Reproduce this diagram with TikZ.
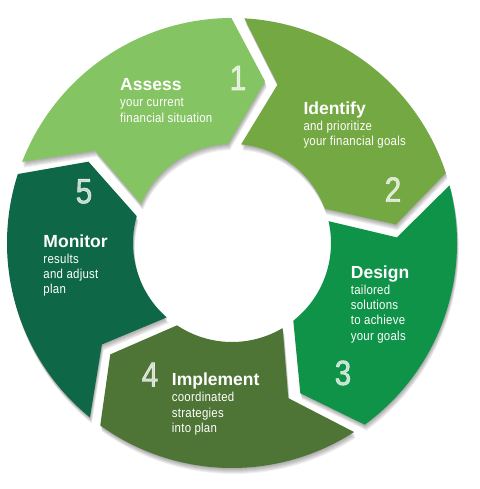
\documentclass[tikz,border=0pt]{standalone}
\usepackage{fontspec}
\setmainfont{Liberation Sans}
\newfontfamily\condfont[FakeStretch=0.88,LetterSpace=2]{Liberation Sans}
\newfontfamily\numfont[FakeStretch=0.85,FakeBold=1.6]{Liberation Sans}
\definecolor{cA}{HTML}{85C462}
\definecolor{cB}{HTML}{74A843}
\definecolor{cC}{HTML}{0F9348}
\definecolor{cD}{HTML}{4E7535}
\definecolor{cE}{HTML}{0E6848}
\def\Ro{225pt}\def\Rm{165pt}\def\Ri{99pt}
\def\gO{1.655}\def\gM{2.257}\def\gI{3.76}\def\dT{12.3}
\newcommand\segpath[2]{({#1-\gO}:\Ro) arc[start angle={#1-\gO}, end angle={#2+\gO}, radius=\Ro] -- ({#2-\dT+\gM}:\Rm) -- ({#2+\gI}:\Ri) arc[start angle={#2+\gI}, end angle={#1-\gI}, radius=\Ri] -- ({#1-\dT-\gM}:\Rm) -- cycle}
\tikzset{
  head/.style={text=white, font=\fontsize{17.5}{20}\selectfont\bfseries, inner sep=0pt, anchor=base west},
  sub/.style={text=white, font=\condfont\fontsize{13}{15.3}\selectfont, inner sep=0pt, anchor=base west},
  num/.style={text=white, text opacity=0.75, font=\numfont\fontsize{35}{40}\selectfont, inner sep=0pt, anchor=base}
}
\begin{document}
\begin{tikzpicture}
\useasboundingbox (-232pt,-246pt) rectangle (247pt,243pt);
\fill[white] (-232pt,-246pt) rectangle (247pt,243pt);
% soft shadows
\foreach \a/\b in {160.5/88.5, 88.5/16.5, 16.5/-55.5, -55.5/-127.5, -127.5/-199.5}{
  \foreach \s in {1,...,6}{
    \fill[black, opacity=0.06, xshift={0.3*\s*1pt}, yshift={-1.0*\s*1pt}] \segpath{\a}{\b};
  }
}
% segments
\fill[cA] \segpath{160.5}{88.5};
\fill[cB] \segpath{88.5}{16.5};
\fill[cC] \segpath{16.5}{-55.5};
\fill[cD] \segpath{-55.5}{-127.5};
\fill[cE] \segpath{-127.5}{-199.5};
% numbers
\node[num] (n1) at (6pt,153pt) {1};
\node[num] (n2) at (161pt,41.3pt) {2};
\node[num] (n3) at (111pt,-142pt) {3};
\node[num] (n4) at (-82pt,-143.7pt) {4};
\node[num] (n5) at (-148pt,39.7pt) {5};
% texts
\node[head] (h1) at (-112pt,152pt) {Assess};
\node[sub] (s1) at (-112pt,136pt) {\vtop{\hbox{your current}\hbox{financial situation}}};
\node[head] (h2) at (71.3pt,128.7pt) {Identify};
\node[sub] (s2) at (71.3pt,112.3pt) {\vtop{\hbox{and prioritize}\hbox{your financial goals}}};
\node[head] (h3) at (118.7pt,-35.3pt) {Design};
\node[sub] (s3) at (118.7pt,-51.3pt) {\vtop{\hbox{tailored}\hbox{solutions}\hbox{to achieve}\hbox{your goals}}};
\node[head] (h4) at (-60.3pt,-142.7pt) {Implement};
\node[sub] (s4) at (-60.3pt,-158.7pt) {\vtop{\hbox{coordinated}\hbox{strategies}\hbox{into plan}}};
\node[head] (h5) at (-188.7pt,-4.7pt) {Monitor};
\node[sub] (s5) at (-188.7pt,-20.3pt) {\vtop{\hbox{results}\hbox{and adjust}\hbox{plan}}};
\end{tikzpicture}
\end{document}
